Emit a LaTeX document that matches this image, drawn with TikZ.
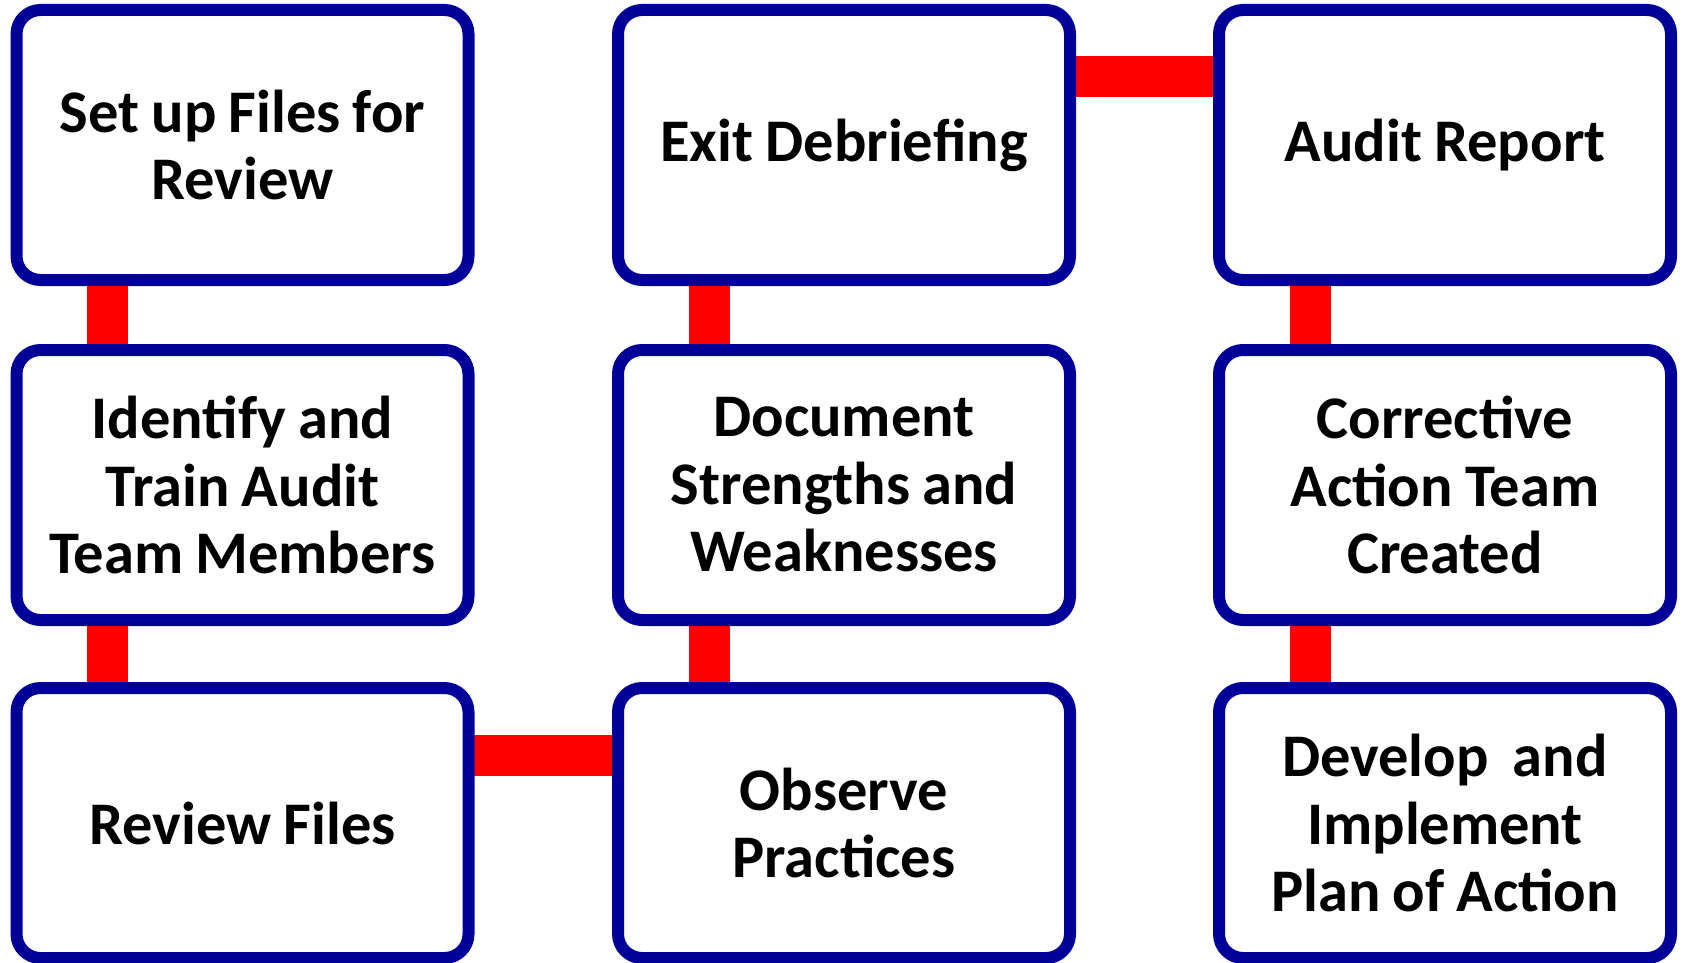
\documentclass[tikz,border=0pt]{standalone}
\usepackage{fontspec}
\setmainfont{Carlito}
\usetikzlibrary{backgrounds}
\definecolor{boxblue}{RGB}{0,0,153}
\definecolor{linkred}{RGB}{255,0,0}
\begin{document}
\begin{tikzpicture}[x=1pt,y=-1pt,
  stepbox/.style={draw=boxblue, line width=12pt, fill=white, rounded corners=24pt,
    minimum width=452pt, minimum height=270pt, inner sep=0pt, outer sep=0pt,
    text width=440pt, align=center,
    font=\bfseries\fontsize{60.5}{67.5}\selectfont,
    execute at begin node={\spaceskip=0.2em\relax}},
  link/.style={draw=linkred, line width=41pt}]
\useasboundingbox (0,0) rectangle (1683,963);
\node[stepbox] (a1) at (242.5,145) {Set up Files for\\Review};
\node[stepbox] (a2) at (242.5,485) {Identify and\\Train Audit\\Team Members};
\node[stepbox] (a3) at (242.5,823) {Review Files};
\node[stepbox] (b1) at (844,145) {Exit Debriefing};
\node[stepbox] (b2) at (844,485) {Document\\Strengths and\\Weaknesses};
\node[stepbox] (b3) at (844,823) {Observe\\Practices};
\node[stepbox] (c1) at (1445,145) {Audit Report};
\node[stepbox] (c2) at (1445,485) {Corrective\\Action Team\\Created};
\node[stepbox] (c3) at (1445,823) {Develop\hspace{0.4em}and\\Implement\\Plan of Action};
\begin{scope}[on background layer]
\draw[link] ([xshift=91pt]a1.south west) -- ([xshift=91pt]a2.north west);
\draw[link] ([xshift=91pt]a2.south west) -- ([xshift=91pt]a3.north west);
\draw[link] ([yshift=-67pt]a3.north east) -- ([yshift=-67pt]b3.north west);
\draw[link] ([xshift=91pt]b3.north west) -- ([xshift=91pt]b2.south west);
\draw[link] ([xshift=91pt]b2.north west) -- ([xshift=91pt]b1.south west);
\draw[link] ([yshift=-67pt]b1.north east) -- ([yshift=-67pt]c1.north west);
\draw[link] ([xshift=91pt]c1.south west) -- ([xshift=91pt]c2.north west);
\draw[link] ([xshift=91pt]c2.south west) -- ([xshift=91pt]c3.north west);
\end{scope}
\end{tikzpicture}
\end{document}
